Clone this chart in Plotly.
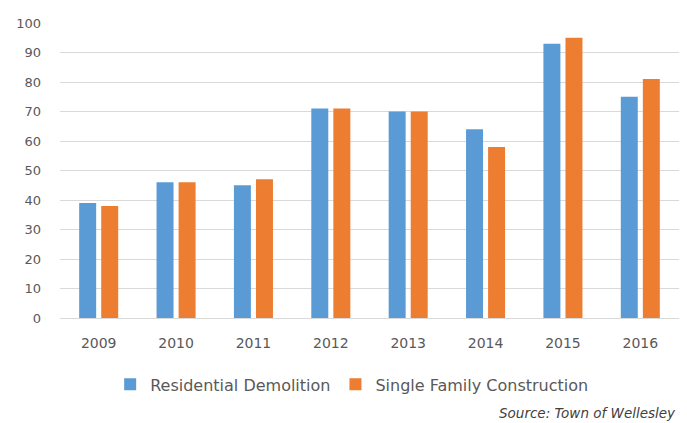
import plotly.graph_objects as go

years = ["2009", "2010", "2011", "2012", "2013", "2014", "2015", "2016"]
demolition = [39, 46, 45, 71, 70, 64, 93, 75]
construction = [38, 46, 47, 71, 70, 58, 95, 81]

FONT = "DejaVu Sans, Liberation Sans, Arial"

fig = go.Figure()
fig.add_trace(go.Bar(x=years, y=demolition, name="Residential Demolition",
                     marker=dict(color="#5B9BD5", line=dict(width=0))))
fig.add_trace(go.Bar(x=years, y=construction, name="Single Family Construction",
                     marker=dict(color="#ED7D31", line=dict(width=0))))

fig.update_layout(
    width=679, height=415,
    margin=dict(l=52, r=8, t=12, b=105),
    paper_bgcolor="white", plot_bgcolor="white",
    barmode="group", bargap=0.43, bargroupgap=0.23,
    font=dict(family=FONT, size=13, color="#595959"),
    showlegend=True,
    legend=dict(orientation="h", x=0.472, xanchor="center", y=-0.225, yanchor="middle",
                font=dict(family=FONT, size=16, color="#595959"),
                itemwidth=30),
    xaxis=dict(type="category", showgrid=False, showline=True, linecolor="#D9D9D9",
               ticks="", ticklabelstandoff=12,
               tickfont=dict(family=FONT, size=14, color="#595959")),
    yaxis=dict(range=[0, 100], dtick=10, showgrid=True, gridcolor="#D9D9D9",
               zeroline=False, showline=False, ticks="", ticklabelstandoff=18,
               tickfont=dict(family=FONT, size=13, color="#595959")),
)
fig.add_annotation(text="<i>Source: Town of Wellesley</i>", xref="paper", yref="paper",
                   x=1.0, xshift=-1, y=-0.322, xanchor="right", yanchor="middle",
                   showarrow=False,
                   font=dict(family=FONT, size=13.5, color="#404040"))

fig.write_html("out.html")
